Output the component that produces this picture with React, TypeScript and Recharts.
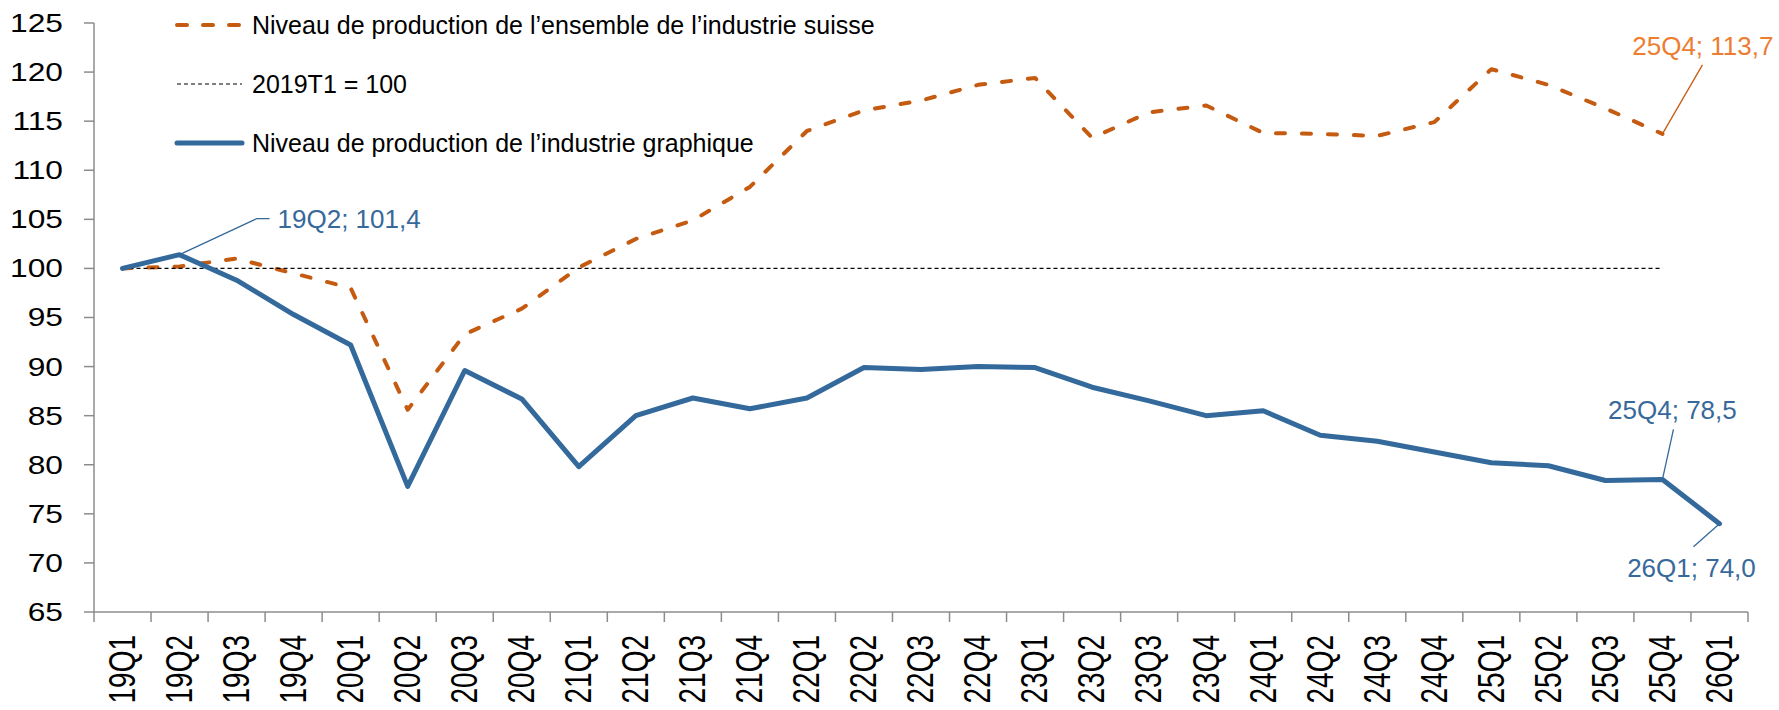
import React from "react";
import { LineChart, Line, XAxis, YAxis, Legend, LabelList } from "recharts";

// Quarters on the category axis
const quarters = [
  "19Q1", "19Q2", "19Q3", "19Q4",
  "20Q1", "20Q2", "20Q3", "20Q4",
  "21Q1", "21Q2", "21Q3", "21Q4",
  "22Q1", "22Q2", "22Q3", "22Q4",
  "23Q1", "23Q2", "23Q3", "23Q4",
  "24Q1", "24Q2", "24Q3", "24Q4",
  "25Q1", "25Q2", "25Q3", "25Q4",
  "26Q1",
];

// Production level, whole Swiss industry (2019T1 = 100)
const industrieSuisse = [
  100, 100.2, 101.0, 99.5,
  98.0, 85.6, 93.3, 95.9,
  100.1, 103.0, 104.9, 108.3,
  114.0, 116.1, 117.1, 118.7,
  119.4, 113.3, 115.9, 116.6,
  113.8, 113.7, 113.5, 114.9,
  120.3, 118.7, 116.3, 113.7,
  null,
];

// Production level, graphic industry (2019T1 = 100)
const industrieGraphique = [
  100, 101.4, 98.8, 95.3,
  92.2, 77.8, 89.6, 86.7,
  79.8, 85.0, 86.8, 85.7,
  86.8, 89.9, 89.7, 90.0,
  89.9, 87.9, 86.5, 85.0,
  85.5, 83.0, 82.4, 81.3,
  80.2, 79.9, 78.4, 78.5,
  74.0,
];

// Base line 2019T1 = 100 (drawn up to 25Q4)
const base2019 = [
  100, 100, 100, 100,
  100, 100, 100, 100,
  100, 100, 100, 100,
  100, 100, 100, 100,
  100, 100, 100, 100,
  100, 100, 100, 100,
  100, 100, 100, 100,
  null,
];

const yTicks = [65, 70, 75, 80, 85, 90, 95, 100, 105, 110, 115, 120, 125];

const legendItems = [
  { key: "suisse", name: "Niveau de production de l’ensemble de l’industrie suisse" },
  { key: "base", name: "2019T1 = 100" },
  { key: "graphique", name: "Niveau de production de l’industrie graphique" },
];

// which points get a value callout
const annotations = [
  { series: "graphique", quarter: "19Q2" },
  { series: "graphique", quarter: "25Q4" },
  { series: "graphique", quarter: "26Q1" },
  { series: "suisse", quarter: "25Q4" },
];

const data = quarters.map((q, i) => ({
  q,
  suisse: industrieSuisse[i],
  graphique: industrieGraphique[i],
  base: base2019[i],
}));

// ---- styling ----
const W = 1779;
const H = 710;
const MARGIN = { top: 23, right: 31, bottom: 0, left: 0 };
const Y_AXIS_W = 94;
const X_AXIS_H = 98;
// width of one category slot (points sit in the middle of their slot, Excel style)
const BAND = (W - MARGIN.left - MARGIN.right - Y_AXIS_W) / quarters.length;
const FONT = "'Liberation Sans', Arial, sans-serif";
const AXIS = "#8C8C8C";

const seriesStyle: Record<string, any> = {
  suisse: { color: "#C55A11", label: "#ED7D31", width: 4, dash: "9 17", legendDash: "10 16" },
  base: { color: "#000000", label: "#000000", width: 1.2, dash: "4 3", legendDash: "4 3" },
  graphique: { color: "#33699B", label: "#37699A", width: 5, dash: undefined, legendDash: undefined },
};

// callout geometry, relative to the data point
const calloutLayout: Record<string, any> = {
  "graphique-19Q2": { leader: [[0, 0], [77, -36], [90, -36]], dx: 98, dy: -27, anchor: "start" },
  "graphique-25Q4": { leader: [[0, 0], [11, -50]], dx: 10, dy: -60, anchor: "middle" },
  "graphique-26Q1": { leader: [[0, 0], [-26, 23]], dx: -28, dy: 53, anchor: "middle" },
  "suisse-25Q4": { leader: [[0, 0], [40, -69]], dx: 111, dy: -79, anchor: "end" },
};

const QuarterTick = (props: any) => {
  const { x, y, payload, index } = props;
  const last = index === quarters.length - 1;
  return (
    <g>
      <line x1={x - BAND / 2} x2={x - BAND / 2} y1={y} y2={y + 10} stroke={AXIS} strokeWidth={1.5} />
      {last && (
        <line x1={x + BAND / 2} x2={x + BAND / 2} y1={y} y2={y + 10} stroke={AXIS} strokeWidth={1.5} />
      )}
      <text
        transform={`translate(${x},${y + 23}) rotate(-90) scale(1,1.3)`}
        textAnchor="end"
        dominantBaseline="central"
        fontFamily={FONT}
        fontSize={28}
        fill="#000"
      >
        {payload.value}
      </text>
    </g>
  );
};

const ValueTick = (props: any) => {
  const { x, y, payload } = props;
  return (
    <text
      transform={`translate(${x},${y}) scale(1.22,1)`}
      textAnchor="end"
      dominantBaseline="central"
      fontFamily={FONT}
      fontSize={26}
      fill="#000"
    >
      {payload.value}
    </text>
  );
};

const makeCallout = (seriesKey: string) => (props: any) => {
  const { x, y, index, value } = props;
  const q = quarters[index];
  const hit = annotations.find((a) => a.series === seriesKey && a.quarter === q);
  if (!hit || value == null || x == null || y == null) return null;
  const lay = calloutLayout[`${seriesKey}-${q}`];
  const st = seriesStyle[seriesKey];
  const pts = lay.leader.map((p: number[]) => `${x + p[0]},${y + p[1]}`).join(" ");
  return (
    <g key={`${seriesKey}-${q}`}>
      <polyline points={pts} fill="none" stroke={st.color} strokeWidth={1.3} />
      <text
        x={x + lay.dx}
        y={y + lay.dy}
        textAnchor={lay.anchor}
        fontFamily={FONT}
        fontSize={26}
        fill={st.label}
      >
        {`${q}; ${Number(value).toFixed(1).replace(".", ",")}`}
      </text>
    </g>
  );
};

const renderLegend = () => (
  <svg width={900} height={170}>
    {legendItems.map((it, i) => {
      const cy = 25 + i * 59;
      const st = seriesStyle[it.key];
      return (
        <g key={it.key}>
          <line
            x1={177}
            x2={242}
            y1={cy}
            y2={cy}
            stroke={st.color}
            strokeWidth={st.width}
            strokeDasharray={st.legendDash}
            strokeLinecap={it.key === "base" ? "butt" : "round"}
          />
          <text x={252} y={cy + 9} fontFamily={FONT} fontSize={25} fill="#000">
            {it.name}
          </text>
        </g>
      );
    })}
  </svg>
);

const App = () => {
  return (
    <div style={{ width: W, height: H, background: "#fff" }}>
      <style>{"body{margin:0}"}</style>
      <LineChart width={W} height={H} data={data} margin={MARGIN}>
        <XAxis
          dataKey="q"
          interval={0}
          height={X_AXIS_H}
          padding={{ left: BAND / 2, right: BAND / 2 }}
          tickLine={false}
          tickSize={0}
          tickMargin={0}
          axisLine={{ stroke: AXIS, strokeWidth: 1.5 }}
          tick={<QuarterTick />}
        />
        <YAxis
          domain={[65, 125]}
          ticks={yTicks}
          interval={0}
          width={Y_AXIS_W}
          tickSize={10}
          tickMargin={21}
          axisLine={{ stroke: AXIS, strokeWidth: 1.5 }}
          tickLine={{ stroke: AXIS, strokeWidth: 1.5 }}
          tick={<ValueTick />}
          allowDataOverflow
        />
        <Legend
          layout="vertical"
          align="center"
          verticalAlign="middle"
          content={renderLegend}
          wrapperStyle={{ position: "absolute", left: 0, top: 0, width: 900, height: 170 }}
        />
        <Line
          type="linear"
          dataKey="suisse"
          stroke={seriesStyle.suisse.color}
          strokeWidth={seriesStyle.suisse.width}
          strokeDasharray={seriesStyle.suisse.dash}
          strokeLinecap="round"
          strokeLinejoin="round"
          dot={false}
          activeDot={false}
          isAnimationActive={false}
        >
          <LabelList dataKey="suisse" content={makeCallout("suisse")} />
        </Line>
        <Line
          type="linear"
          dataKey="base"
          stroke={seriesStyle.base.color}
          strokeWidth={seriesStyle.base.width}
          strokeDasharray={seriesStyle.base.dash}
          dot={false}
          activeDot={false}
          isAnimationActive={false}
        />
        <Line
          type="linear"
          dataKey="graphique"
          stroke={seriesStyle.graphique.color}
          strokeWidth={seriesStyle.graphique.width}
          strokeLinejoin="round"
          strokeLinecap="round"
          dot={false}
          activeDot={false}
          isAnimationActive={false}
        >
          <LabelList dataKey="graphique" content={makeCallout("graphique")} />
        </Line>
      </LineChart>
    </div>
  );
};

export default App;
